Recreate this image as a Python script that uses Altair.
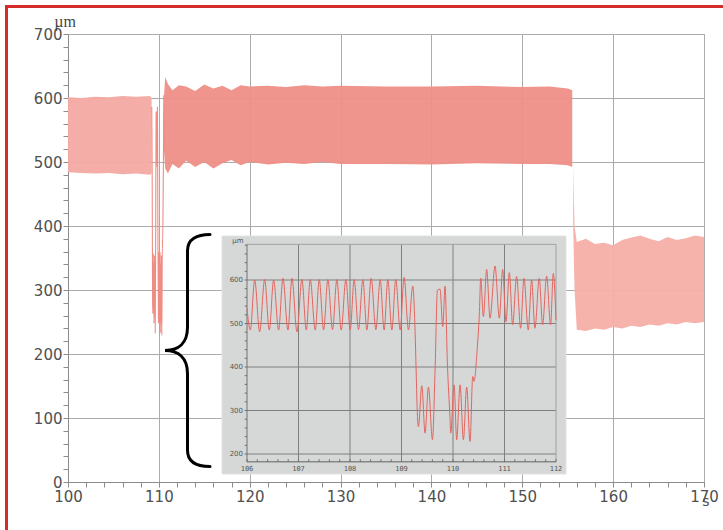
import altair as alt
import pandas as pd

# ---------------- main trace: envelopes (µm) ----------------
a_t = [100.0, 101.5, 103.0, 104.5, 106.0, 107.5, 109.0, 109.2]
a_hi = [601, 600, 602, 601, 603, 602, 603, 600]
a_lo = [484, 483, 482, 483, 481, 482, 480, 482]

b_t = [110.55, 110.7, 111.0, 111.5, 112.2, 113.0, 114.0, 115.0, 116.0, 117.0, 118.0,
       119.0, 120.0, 122.0, 124.0, 126.0, 128.0, 130.0, 135.0, 140.0, 145.0, 150.0,
       153.0, 155.0, 155.5]
b_hi = [600, 633, 622, 612, 620, 618, 611, 621, 615, 619, 612, 620, 618, 619, 617,
        620, 618, 619, 618, 618, 619, 617, 618, 615, 612]
b_lo = [520, 490, 482, 497, 490, 502, 492, 500, 490, 498, 503, 495, 500, 496, 499,
        497, 500, 497, 497, 496, 498, 497, 497, 495, 492]

c_t = [155.6, 155.75, 156.0, 157.0, 158.0, 159.0, 160.0, 161.0, 162.0, 163.0, 164.0,
       165.0, 166.0, 167.0, 168.0, 169.0, 170.0]
c_hi = [495, 400, 375, 380, 372, 374, 370, 378, 382, 385, 380, 376, 383, 378, 381, 385, 383]
c_lo = [400, 300, 238, 236, 240, 238, 242, 240, 244, 242, 246, 244, 248, 246, 250, 248, 250]

# ---------------- inset trace (106 s .. 112 s), extremes ----------------
in_t = [106.000, 106.065, 106.149, 106.246, 106.343, 106.433, 106.517, 106.614, 106.698,
        106.795, 106.873, 106.970, 107.067, 107.151, 107.228, 107.325, 107.403, 107.487,
        107.571, 107.661, 107.745, 107.829, 107.920, 108.004, 108.081, 108.165, 108.250,
        108.327, 108.411, 108.502, 108.586, 108.663, 108.734, 108.812, 108.889, 108.974,
        109.051, 109.135, 109.219, 109.264, 109.284, 109.310, 109.329, 109.394, 109.458,
        109.523, 109.601, 109.652, 109.698, 109.749, 109.801, 109.846, 109.891, 109.943,
        109.956, 110.021, 110.072, 110.137, 110.202, 110.266, 110.331, 110.383, 110.409,
        110.473, 110.512, 110.538, 110.590, 110.654, 110.719, 110.816, 110.900, 110.964,
        111.029, 111.094, 111.158, 111.236, 111.313, 111.378, 111.462, 111.527, 111.591,
        111.675, 111.740, 111.818, 111.895, 111.947, 112.000]
in_v = [535, 485, 600, 481, 601, 485, 600, 485, 604,
        485, 604, 481, 601, 485, 601, 485, 601, 485,
        601, 486, 601, 485, 601, 485, 601, 486, 601,
        485, 604, 486, 601, 485, 601, 485, 601, 485,
        606, 485, 586, 481, 393, 286, 263, 357, 248,
        354, 233, 393, 577, 579, 493, 586, 409, 280,
        248, 359, 233, 359, 233, 354, 229, 378, 367,
        447, 523, 604, 516, 624, 512, 632, 512, 624,
        504, 617, 497, 608, 489, 604, 485, 600, 489,
        604, 497, 609, 497, 615, 508]

# axis tick values / labels
main_x_ticks = list(range(100, 171, 2))
main_y_ticks = list(range(0, 701, 20))
inset_y_grid = [200, 300, 400, 500, 600]
inset_y_labels = ["200", "300", "400", "500", "600"]
inset_x_grid = [107, 108, 109, 110, 111]
inset_x_vals = [106, 107, 108, 109, 110, 111, 112]
inset_x_labels = ["106", "107", "108", "109", "110", "111", "112"]
inset_y_minor = list(range(200, 681, 20))
inset_x_minor = [round(106 + 0.2 * i, 1) for i in range(31)]
inset_y_extent = [182, 682]
inset_x_extent = [106, 112]

# ---------------- scales and axes ----------------
MX = alt.Scale(domain=[100, 170], nice=False, zero=False)
MY = alt.Scale(domain=[0, 700], nice=False, zero=False)
IX = alt.Scale(domain=[106, 112], range=[179, 488], nice=False, zero=False)
IY = alt.Scale(domain=[200, 600], range=[420, 246], nice=False, zero=False)

common_axis = dict(
    title=None, grid=True, gridColor="#ababab", gridWidth=1,
    domainColor="#8c8c8c", tickColor="#8c8c8c", tickSize=5,
    labelFont="DejaVu Sans", labelFontSize=15, labelColor="#505050",
    labelFlush=False, labelOverlap=False,
)
ax_x = alt.Axis(
    values=main_x_ticks,
    labelExpr="datum.value % 10 === 0 ? datum.label : ''",
    gridOpacity={"condition": {"test": "datum.value % 10 === 0", "value": 1}, "value": 0},
    labelPadding=2, **common_axis,
)
ax_y = alt.Axis(
    values=main_y_ticks,
    labelExpr="datum.value % 100 === 0 ? datum.label : ''",
    gridOpacity={"condition": {"test": "datum.value % 100 === 0", "value": 1}, "value": 0},
    labelPadding=1, **common_axis,
)


def mx(f):
    return alt.X(f, scale=MX, axis=ax_x)


def my(f):
    return alt.Y(f, scale=MY, axis=ax_y)


dfA = pd.DataFrame({"t": a_t, "hi": a_hi, "lo": a_lo})
dfB = pd.DataFrame({"t": b_t, "hi": b_hi, "lo": b_lo})
dfC = pd.DataFrame({"t": c_t, "hi": c_hi, "lo": c_lo})
dfI = pd.DataFrame({"t": in_t, "v": in_v})

areaA = alt.Chart(dfA).mark_area(color="#f3a9a2", opacity=0.95).encode(x=mx("t:Q"), y=my("hi:Q"), y2="lo:Q")
areaB = alt.Chart(dfB).mark_area(color="#ee8f87", opacity=0.95).encode(x=mx("t:Q"), y=my("hi:Q"), y2="lo:Q")
areaC = alt.Chart(dfC).mark_area(color="#f4afa8", opacity=0.95).encode(x=mx("t:Q"), y=my("hi:Q"), y2="lo:Q")
dip = (
    alt.Chart(dfI)
    .transform_filter("datum.t >= 109.15 && datum.t <= 110.6")
    .mark_line(color="#ef8c84", strokeWidth=1.1, interpolate="monotone")
    .encode(x=mx("t:Q"), y=my("v:Q"))
)

one = pd.DataFrame({"a": [0]})
border = alt.Chart(one).mark_rect(fillOpacity=0, stroke="#d42b2b", strokeWidth=3).encode(
    x=alt.value(-61.5), x2=alt.value(660), y=alt.value(-27.5), y2=alt.value(501)
)
um_main = alt.Chart(one).mark_text(text="µm", font="Liberation Serif", fontSize=16, color="#444444").encode(
    x=alt.value(-3), y=alt.value(-12)
)
s_main = alt.Chart(one).mark_text(text="s", font="DejaVu Sans", fontSize=14, color="#505050").encode(
    x=alt.value(638), y=alt.value(468)
)
brace_path = ("M 0.194 -1 C 0.08 -1 0 -0.96 0 -0.86 L 0 -0.2 C 0 -0.06 -0.08 0 -0.194 0 "
              "C -0.08 0 0 0.06 0 0.2 L 0 0.86 C 0 0.96 0.08 1 0.194 1")
brace = alt.Chart(one).mark_point(
    shape=brace_path, size=53824, filled=False, stroke="black", strokeWidth=3, opacity=1, strokeCap="round"
).encode(x=alt.value(119.5), y=alt.value(316.5))

main = alt.layer(areaA, areaB, areaC, dip)

# ---------------- inset ----------------
box = alt.Chart(one).mark_rect(fill="#d6d8d8", stroke="#e2e2e2", strokeWidth=1).encode(
    x=alt.value(154), x2=alt.value(498), y=alt.value(202), y2=alt.value(440)
)
df_hg = pd.DataFrame({"v": inset_y_grid, "x0": [inset_x_extent[0]] * 5, "x1": [inset_x_extent[1]] * 5})
hgrid = alt.Chart(df_hg).mark_rule(color="#7f7f7f", strokeWidth=1).encode(
    x=alt.X("x0:Q", scale=IX, axis=None), x2="x1:Q", y=alt.Y("v:Q", scale=IY, axis=None)
)
df_vg = pd.DataFrame({"t": inset_x_grid, "y0": [inset_y_extent[0]] * 5, "y1": [inset_y_extent[1]] * 5})
vgrid = alt.Chart(df_vg).mark_rule(color="#7f7f7f", strokeWidth=1).encode(
    x=alt.X("t:Q", scale=IX, axis=None), y=alt.Y("y0:Q", scale=IY, axis=None), y2="y1:Q"
)
df_frame = pd.DataFrame({
    "x0": [106, 106, 112, 106], "x1": [112, 106, 112, 112],
    "y0": [682, 182, 182, 182], "y1": [682, 682, 682, 182],
    "c": ["#a0a0a0", "#707070", "#a0a0a0", "#606060"],
})
frame = alt.Chart(df_frame).mark_rule(strokeWidth=1).encode(
    x=alt.X("x0:Q", scale=IX, axis=None), x2="x1:Q",
    y=alt.Y("y0:Q", scale=IY, axis=None), y2="y1:Q",
    color=alt.Color("c:N", scale=None),
)
df_yt = pd.DataFrame({"v": inset_y_minor, "x0": [105.955] * len(inset_y_minor), "x1": [106] * len(inset_y_minor)})
yt = alt.Chart(df_yt).mark_rule(color="#707070", strokeWidth=1).encode(
    x=alt.X("x0:Q", scale=IX, axis=None), x2="x1:Q", y=alt.Y("v:Q", scale=IY, axis=None)
)
df_xt = pd.DataFrame({"t": inset_x_minor, "y0": [182] * len(inset_x_minor), "y1": [188] * len(inset_x_minor)})
xt = alt.Chart(df_xt).mark_rule(color="#707070", strokeWidth=1).encode(
    x=alt.X("t:Q", scale=IX, axis=None), y=alt.Y("y0:Q", scale=IY, axis=None), y2="y1:Q"
)
iline = alt.Chart(dfI).mark_line(color="#e4645d", strokeWidth=1, interpolate="monotone").encode(
    x=alt.X("t:Q", scale=IX, axis=None), y=alt.Y("v:Q", scale=IY, axis=None)
)
df_iyl = pd.DataFrame({"v": inset_y_grid, "lab": inset_y_labels, "x": [106] * 5})
iyl = alt.Chart(df_iyl).mark_text(align="right", baseline="middle", dx=-4, fontSize=7,
                                  font="DejaVu Sans", color="#555555").encode(
    x=alt.X("x:Q", scale=IX, axis=None), y=alt.Y("v:Q", scale=IY, axis=None), text="lab:N"
)
df_ixl = pd.DataFrame({"t": inset_x_vals, "lab": inset_x_labels, "y": [182] * 7})
ixl = alt.Chart(df_ixl).mark_text(align="center", baseline="top", dy=3, fontSize=7,
                                  font="DejaVu Sans Mono", color="#555555").encode(
    x=alt.X("t:Q", scale=IX, axis=None), y=alt.Y("y:Q", scale=IY, axis=None), text="lab:N"
)
um_inset = alt.Chart(one).mark_text(text="µm", font="DejaVu Sans", fontSize=7, color="#555555").encode(
    x=alt.value(170), y=alt.value(207)
)

inset = alt.layer(box, hgrid, vgrid, frame, yt, xt, iline, iyl, ixl, um_inset, brace, border, um_main, s_main)

chart = (
    alt.layer(main, inset)
    .resolve_scale(x="independent", y="independent")
    .properties(
        width=636, height=448,
        autosize=alt.AutoSizeParams(type="none"),
        padding={"left": 68, "top": 34, "right": 19, "bottom": 48},
        background="white",
    )
    .configure_view(stroke="#a8a8a8", strokeWidth=1)
)

chart.save("out.html", embed_options={"renderer": "svg", "actions": False})
